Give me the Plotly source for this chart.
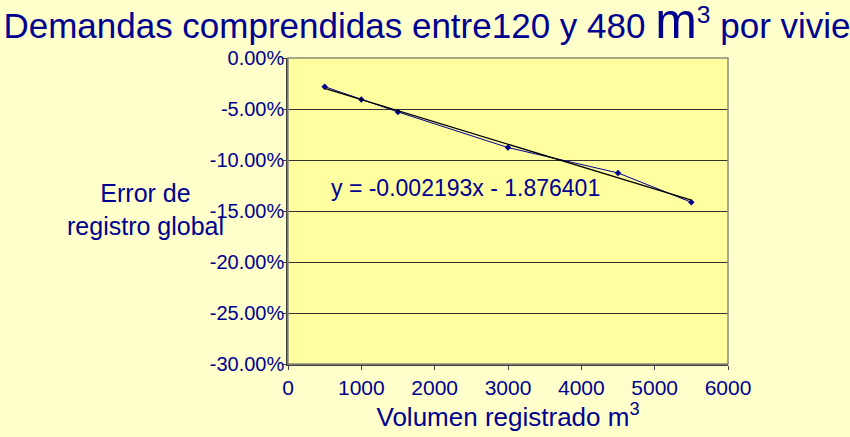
"""Error de registro global vs volumen registrado."""

import plotly.graph_objects as go

# data
volumen = [500, 1000, 1500, 3000, 4500, 5500]
error_pct = [-2.81, -4.07, -5.29, -8.78, -11.27, -14.14]  # in %
trend_slope = -0.002193
trend_intercept = -1.876401
trend_x = [500, 5500]

x_ticks = [0, 1000, 2000, 3000, 4000, 5000, 6000]
y_ticks = [0.0, -0.05, -0.10, -0.15, -0.20, -0.25, -0.30]
y_ticktext = [f"{v * 100:.2f}%" for v in y_ticks]

NAVY = "#000090"
FONT = "Liberation Sans, Arial, sans-serif"

error_frac = [v / 100 for v in error_pct]
trend_y = [(trend_slope * x + trend_intercept) / 100 for x in trend_x]

fig = go.Figure()
fig.add_trace(go.Scatter(x=volumen, y=error_frac, mode="lines+markers",
                         line=dict(color=NAVY, width=1),
                         marker=dict(symbol="diamond", size=5, color=NAVY)))
fig.add_trace(go.Scatter(x=trend_x, y=trend_y, mode="lines",
                         line=dict(color="#000000", width=1.3)))

fig.add_annotation(x=560, y=-0.1278, xref="x", yref="y", xanchor="left", yanchor="middle",
                   text=f"y = {trend_slope:.6f}x - {abs(trend_intercept):.6f}",
                   showarrow=False, font=dict(family=FONT, size=23, color=NAVY))
fig.add_annotation(x=(145 - 288) / 440, y=(368 - 211) / 310, xref="paper", yref="paper",
                   xanchor="center", yanchor="middle",
                   showarrow=False, text="Error de<br>registro global", align="center",
                   font=dict(family=FONT, size=25, color=NAVY))

# plot border (grey top/right like the original)
fig.add_shape(type="rect", xref="x domain", yref="y domain", x0=0, y0=0, x1=1, y1=1,
              line=dict(color="#8a8a7a", width=1.5), layer="above")

fig.update_layout(
    width=850, height=437,
    margin=dict(l=288, r=122, t=58, b=69),
    paper_bgcolor="#FFFFCC", plot_bgcolor="#FFFFA0",
    showlegend=False,
    font=dict(family=FONT, color=NAVY),
    title=dict(text='Demandas comprendidas entre120 y 480 <span style="font-size:50px">m</span><sup>3</sup> por vivienda',
               x=0.004, xanchor="left", xref="container",
               y=0.97, yanchor="top", yref="container",
               font=dict(family=FONT, size=35, color=NAVY)),
)
fig.update_xaxes(range=[0, 6000], tickvals=x_ticks, showgrid=False, zeroline=False,
                 showline=True, linecolor="#404040", linewidth=1.5,
                 ticks="outside", ticklen=4, tickcolor="#404040",
                 tickfont=dict(family=FONT, size=21, color=NAVY),
                 title=dict(text="Volumen registrado m<sup>3</sup>", standoff=8,
                            font=dict(family=FONT, size=26, color=NAVY)))
fig.update_yaxes(range=[-0.30, 0], tickvals=y_ticks, ticktext=y_ticktext,
                 showgrid=True, gridcolor="#303030", gridwidth=1, zeroline=False,
                 showline=True, linecolor="#404040", linewidth=1.5,
                 ticks="outside", ticklen=4, tickcolor="#404040",
                 ticklabelstandoff=-6,
                 tickfont=dict(family=FONT, size=20, color=NAVY))

fig.write_html("out.html", config={"displayModeBar": False},
               post_script="document.body.style.margin='0';")
